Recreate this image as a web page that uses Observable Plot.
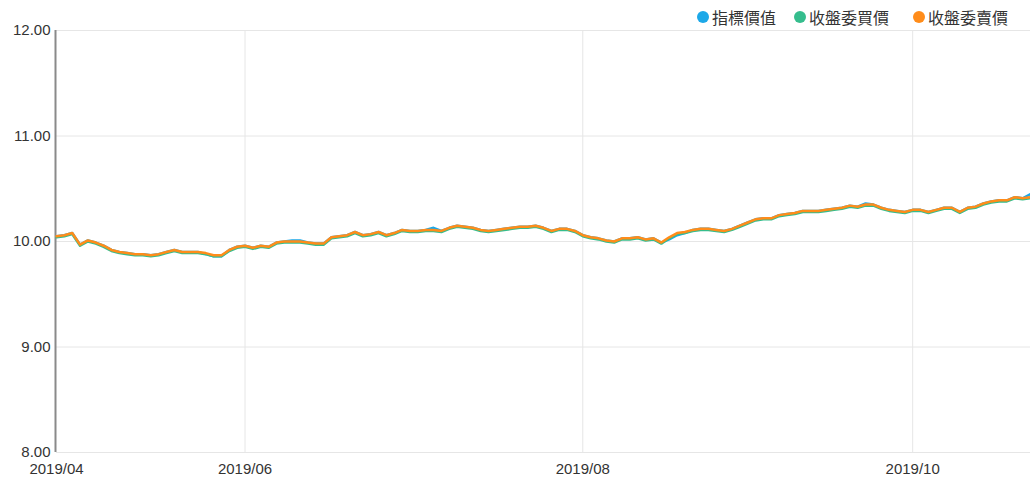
<!DOCTYPE html>
<html><head><meta charset="utf-8">
<script src="https://cdn.jsdelivr.net/npm/d3@7"></script>
<script src="https://cdn.jsdelivr.net/npm/@observablehq/plot@0.6"></script>
<style>
body{margin:0;background:#fff;font-family:"Liberation Sans",Arial,sans-serif;}
#legend{position:relative;height:24px;width:1030px;font-family:"Noto Sans CJK TC","Noto Sans",sans-serif;font-size:16px;color:#333;}
.item{position:absolute;top:4px;height:26px;display:flex;align-items:center;white-space:nowrap;}
.sw{width:12px;height:12px;border-radius:50%;margin-right:3px;}
</style></head><body>
<div id="legend"></div><div id="chart"></div>
<script>
const seriesNames = ["指標價值", "收盤委買價", "收盤委賣價"];
const seriesColors = ["#1ca8e8", "#35bd8d", "#ff8c1a"];
const tickIndex = [0, 24, 67, 109];
const tickLabels = ["2019/04", "2019/06", "2019/08", "2019/10"];
const yTicks = [8, 9, 10, 11, 12];

const indexValue = [10.05,10.06,10.08,9.97,10.01,9.99,9.96,9.92,9.90,9.89,9.88,9.88,9.87,9.88,9.90,9.92,9.90,9.90,9.90,9.88,9.86,9.86,9.92,9.95,9.96,9.94,9.96,9.95,9.99,10.00,10.01,10.01,9.99,9.98,9.98,10.04,10.05,10.06,10.09,10.06,10.07,10.09,10.06,10.08,10.11,10.10,10.10,10.11,10.13,10.10,10.13,10.15,10.14,10.13,10.11,10.10,10.11,10.12,10.13,10.14,10.14,10.15,10.13,10.10,10.12,10.12,10.10,10.06,10.04,10.03,10.01,10.00,10.03,10.03,10.04,10.02,10.03,9.99,10.02,10.06,10.08,10.11,10.12,10.12,10.11,10.10,10.12,10.15,10.18,10.21,10.22,10.22,10.25,10.26,10.27,10.29,10.29,10.29,10.30,10.31,10.32,10.34,10.33,10.36,10.35,10.32,10.30,10.29,10.28,10.30,10.30,10.28,10.30,10.32,10.32,10.28,10.32,10.33,10.36,10.38,10.39,10.39,10.42,10.41,10.45];
const bidPrice = [10.04,10.05,10.07,9.96,10.00,9.98,9.95,9.91,9.89,9.88,9.87,9.87,9.86,9.87,9.89,9.91,9.89,9.89,9.89,9.88,9.86,9.86,9.91,9.94,9.95,9.93,9.95,9.94,9.98,9.99,9.99,9.99,9.98,9.97,9.97,10.03,10.04,10.05,10.08,10.05,10.06,10.08,10.05,10.07,10.10,10.09,10.09,10.10,10.10,10.09,10.12,10.14,10.13,10.12,10.10,10.09,10.10,10.11,10.12,10.13,10.13,10.14,10.12,10.09,10.11,10.11,10.09,10.05,10.03,10.02,10.00,9.99,10.02,10.02,10.03,10.01,10.02,9.98,10.03,10.07,10.08,10.10,10.11,10.11,10.10,10.09,10.11,10.14,10.17,10.20,10.21,10.21,10.24,10.25,10.26,10.28,10.28,10.28,10.29,10.30,10.31,10.33,10.32,10.34,10.34,10.31,10.29,10.28,10.27,10.29,10.29,10.27,10.29,10.31,10.31,10.27,10.31,10.32,10.35,10.37,10.38,10.38,10.41,10.40,10.41];
const askPrice = [10.05,10.06,10.08,9.97,10.01,9.99,9.96,9.92,9.90,9.89,9.88,9.88,9.87,9.88,9.90,9.92,9.90,9.90,9.90,9.89,9.87,9.87,9.92,9.95,9.96,9.94,9.96,9.95,9.99,10.00,10.00,10.00,9.99,9.98,9.98,10.04,10.05,10.06,10.09,10.06,10.07,10.09,10.06,10.08,10.11,10.10,10.10,10.11,10.11,10.10,10.13,10.15,10.14,10.13,10.11,10.10,10.11,10.12,10.13,10.14,10.14,10.15,10.13,10.10,10.12,10.12,10.10,10.06,10.04,10.03,10.01,10.00,10.03,10.03,10.04,10.02,10.03,9.99,10.04,10.08,10.09,10.11,10.12,10.12,10.11,10.10,10.12,10.15,10.18,10.21,10.22,10.22,10.25,10.26,10.27,10.29,10.29,10.29,10.30,10.31,10.32,10.34,10.33,10.35,10.35,10.32,10.30,10.29,10.28,10.30,10.30,10.28,10.30,10.32,10.32,10.28,10.32,10.33,10.36,10.38,10.39,10.39,10.42,10.41,10.42];

const allSeries = [indexValue, bidPrice, askPrice];
const rows = [];
allSeries.forEach((arr, k) => arr.forEach((v, i) => rows.push({i, v, s: seriesNames[k]})));

// legend
const legendLeft = [697, 794, 913];
const legend = document.getElementById("legend");
seriesNames.forEach((n, k) => {
  const d = document.createElement("div");
  d.className = "item";
  d.style.left = legendLeft[k] + "px";
  d.innerHTML = `<span class="sw" style="background:${seriesColors[k]}"></span><span>${n}</span>`;
  legend.appendChild(d);
});

const chart = Plot.plot({
  width: 1030, height: 455,
  marginTop: 6, marginBottom: 27, marginLeft: 56, marginRight: 0,
  style: {fontFamily: "'Liberation Sans', Arial, sans-serif", fontSize: "14px", color: "#333", background: "#fff", overflow: "visible"},
  x: {domain: [0, allSeries[0].length - 1]},
  y: {domain: [8, 12]},
  color: {domain: seriesNames, range: seriesColors},
  marks: [
    Plot.gridY(yTicks, {stroke: "#e6e6e6", strokeOpacity: 1}),
    Plot.gridX(tickIndex.slice(1), {stroke: "#e6e6e6", strokeOpacity: 1}),
    Plot.ruleX([0], {stroke: "#8a8a8a", strokeWidth: 2, dx: -1}),
    Plot.axisY(yTicks, {tickSize: 0, tickPadding: 6, tickFormat: d => d.toFixed(2), label: null, fontSize: 15}),
    Plot.axisX(tickIndex, {tickSize: 0, tickPadding: 11, tickFormat: (d, j) => tickLabels[tickIndex.indexOf(d)], label: null, fontSize: 15}),
    Plot.line(rows, {x: "i", y: "v", z: "s", stroke: "s", strokeWidth: 2.5})
  ]
});
document.getElementById("chart").appendChild(chart);
</script>
</body></html>
